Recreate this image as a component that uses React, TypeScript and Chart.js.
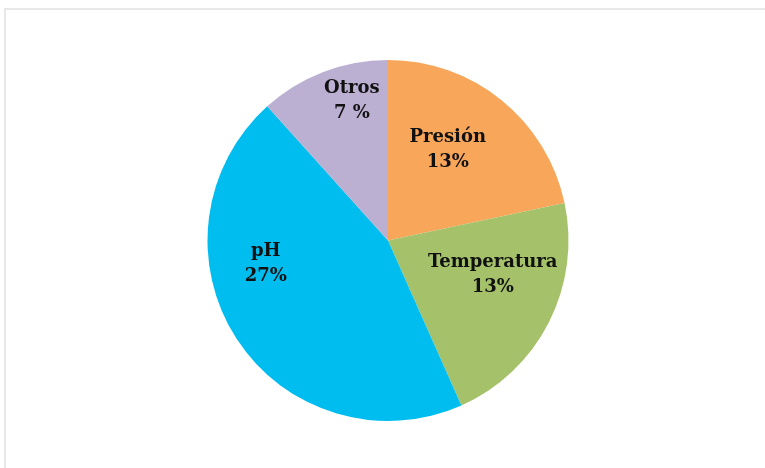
import React, { useEffect, useRef } from "react";
import { Chart, registerables } from "chart.js";

Chart.register(...registerables);

const categories = ["Presión", "Temperatura", "pH", "Otros"];
const values = [13, 13, 27, 7];
const valueLabels = ["13%", "13%", "27%", "7 %"];
const colors = ["#F8A65A", "#A5C26A", "#00BDF0", "#BBAFD2"];

// polar placement of each label: angle offset (deg) from slice middle, radius fraction
const labelPlace = [
  { dAngle: -5.5, r: 0.6 },
  { dAngle: -9, r: 0.61 },
  { dAngle: 22, r: 0.69 },
  { dAngle: 6.5, r: 0.8 },
];

const labelPlugin = {
  id: "sliceLabels",
  afterDatasetsDraw(chart: any) {
    const ctx = chart.ctx;
    const meta = chart.getDatasetMeta(0);
    ctx.save();
    ctx.font = "bold 18px 'DejaVu Serif'";
    ctx.fillStyle = "#111";
    ctx.textAlign = "center";
    ctx.textBaseline = "middle";
    meta.data.forEach((arc: any, i: number) => {
      const p = arc.getProps(["x", "y", "startAngle", "endAngle", "outerRadius"], true);
      const mid = (p.startAngle + p.endAngle) / 2 + (labelPlace[i].dAngle * Math.PI) / 180;
      const r = p.outerRadius * labelPlace[i].r;
      const cx = p.x + Math.cos(mid) * r;
      const cy = p.y + Math.sin(mid) * r;
      ctx.fillText(categories[i], cx, cy - 12.5);
      ctx.fillText(valueLabels[i], cx, cy + 12.5);
    });
    ctx.restore();
  },
};

export default function App() {
  const ref = useRef<HTMLCanvasElement>(null);
  useEffect(() => {
    if (!ref.current) return;
    const chart = new Chart(ref.current, {
      type: "pie",
      data: {
        labels: categories,
        datasets: [
          {
            data: values,
            backgroundColor: colors,
            borderWidth: 0,
          },
        ],
      },
      options: {
        animation: false,
        responsive: false,
        layout: { padding: { top: 60, bottom: 47, left: 207, right: 196 } },
        plugins: {
          legend: { display: false },
          tooltip: { enabled: false },
        },
      },
      plugins: [labelPlugin],
    });
    return () => chart.destroy();
  }, []);
  return (
    <div style={{ position: "fixed", left: 0, top: 0, width: 765, height: 468, background: "#fff" }}>
      <div
        style={{
          position: "absolute",
          left: 4,
          top: 8,
          right: 0,
          bottom: 0,
          borderTop: "2px solid #e8e8e8",
          borderLeft: "2px solid #e8e8e8",
        }}
      />
      <canvas ref={ref} width={765} height={468} style={{ position: "absolute", left: 0, top: 0 }} />
    </div>
  );
}
